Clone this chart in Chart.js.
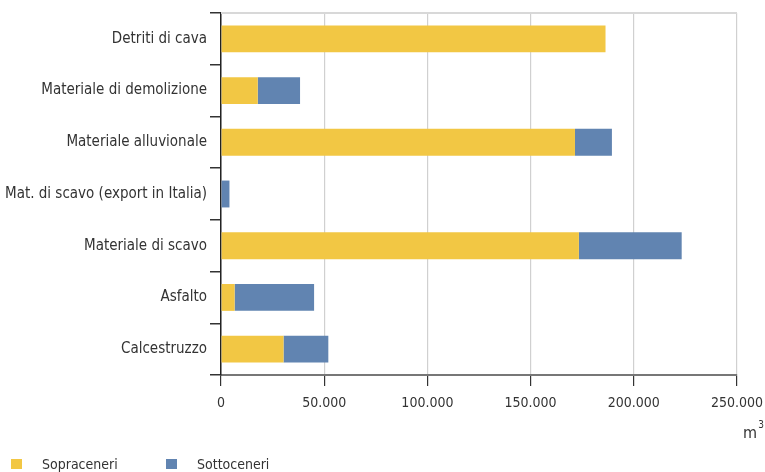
<!DOCTYPE html>
<html>
<head>
<meta charset="utf-8">
<script src="https://cdn.jsdelivr.net/npm/chart.js@4.4.1/dist/chart.umd.min.js"></script>
<style>
  html, body { margin: 0; padding: 0; background: #fff; }
  #wrap { width: 765px; height: 472px; position: relative; }
</style>
</head>
<body>
<div id="wrap"><canvas id="chart"></canvas></div>
<script>
var categories = [
    'Detriti di cava',
    'Materiale di demolizione',
    'Materiale alluvionale',
    'Mat. di scavo (export in Italia)',
    'Materiale di scavo',
    'Asfalto',
    'Calcestruzzo'
];
var sopraceneri = [186300, 17800, 171500, 0, 173400, 6600, 30300];
var sottoceneri = [0, 20500, 17900, 4100, 49800, 38500, 21700];
var seriesNames = ['Sopraceneri', 'Sottoceneri'];
var seriesColors = ['#f2c744', '#6184b1'];
var xTickLabels = ['0', '50.000', '100.000', '150.000', '200.000', '250.000'];

var fontFamily = "'DejaVu Sans Condensed', 'Liberation Sans Narrow', sans-serif";
var textColor = '#333';

// top border, unit label and legend are drawn here
var extras = {
    id: 'extras',
    afterDraw: function(chart) {
        var ctx = chart.ctx;
        var area = chart.chartArea;
        ctx.save();
        ctx.strokeStyle = '#d8d8d8';
        ctx.lineWidth = 2;
        ctx.beginPath();
        ctx.moveTo(area.left, area.top);
        ctx.lineTo(area.right, area.top);
        ctx.stroke();

        ctx.fillStyle = textColor;
        ctx.font = '16px ' + fontFamily;
        ctx.textBaseline = 'middle';
        ctx.textAlign = 'right';
        ctx.fillText('m', 757, 434);
        ctx.font = '10px ' + fontFamily;
        ctx.fillText('3', 764, 425);

        ctx.textAlign = 'left';
        ctx.font = '14px ' + fontFamily;
        var legendX = [11, 166];
        chart.data.datasets.forEach(function(ds, i) {
            ctx.fillStyle = ds.backgroundColor;
            ctx.fillRect(legendX[i], 459, 11, 10);
            ctx.fillStyle = textColor;
            ctx.fillText(ds.label, legendX[i] + 31, 465);
        });
        ctx.restore();
    }
};

new Chart(document.getElementById('chart').getContext('2d'), {
    type: 'bar',
    data: {
        labels: categories,
        datasets: [{
            label: seriesNames[0],
            data: sopraceneri,
            backgroundColor: seriesColors[0],
            barPercentage: 0.52,
            categoryPercentage: 1
        }, {
            label: seriesNames[1],
            data: sottoceneri,
            backgroundColor: seriesColors[1],
            barPercentage: 0.52,
            categoryPercentage: 1
        }]
    },
    options: {
        indexAxis: 'y',
        responsive: true,
        maintainAspectRatio: false,
        animation: false,
        layout: { padding: { top: 13, bottom: 52, left: 0, right: 0 } },
        plugins: {
            legend: { display: false },
            tooltip: { enabled: false }
        },
        scales: {
            x: {
                stacked: true,
                min: 0,
                max: 250000,
                afterFit: function(s) { s.height = 45; s.paddingRight = 28; },
                border: { color: '#777', width: 2 },
                grid: { color: '#d0d0d0', lineWidth: 1.2, tickColor: '#333', tickLength: 11 },
                ticks: {
                    stepSize: 50000,
                    padding: 9,
                    color: textColor,
                    font: { family: fontFamily, size: 14 },
                    callback: function(v, i) { return xTickLabels[i]; }
                }
            },
            y: {
                stacked: true,
                afterFit: function(s) { s.width = 221; },
                border: { color: '#222', width: 1.5 },
                grid: { drawOnChartArea: false, offset: true, tickColor: '#333', tickLength: 11, lineWidth: 1.5 },
                ticks: {
                    padding: 3,
                    color: textColor,
                    font: { family: fontFamily, size: 15 }
                }
            }
        }
    },
    plugins: [extras]
});
</script>
</body>
</html>
